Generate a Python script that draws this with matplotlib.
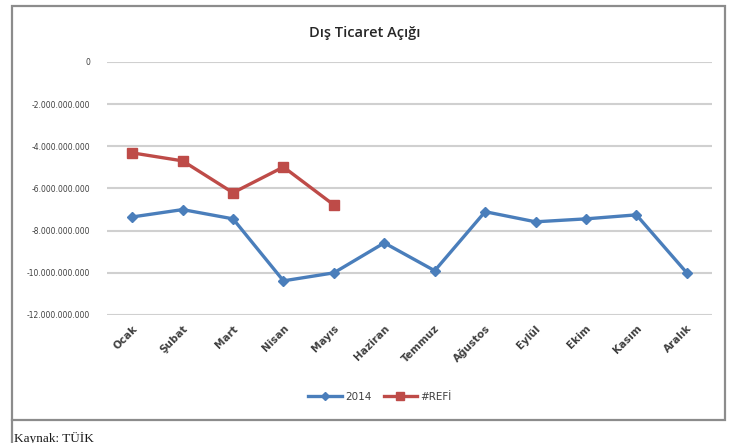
import matplotlib.pyplot as plt
from matplotlib.patches import Rectangle
from matplotlib.lines import Line2D
from matplotlib.ticker import FuncFormatter

months = ["Ocak", "Şubat", "Mart", "Nisan", "Mayıs", "Haziran", "Temmuz",
          "Ağustos", "Eylül", "Ekim", "Kasım", "Aralık"]
deficit_2014 = [-7.35e9, -7.0e9, -7.44e9, -10.38e9, -10.0e9, -8.58e9, -9.9e9,
                -7.1e9, -7.58e9, -7.44e9, -7.25e9, -10.0e9]
deficit_ref = [-4.31e9, -4.69e9, -6.2e9, -4.98e9, -6.78e9]
yticks = [0, -2e9, -4e9, -6e9, -8e9, -10e9, -12e9]

W, H = 730, 443
fig = plt.figure(figsize=(W / 100, H / 100), dpi=100)
fig.patch.set_facecolor("white")

# chart frame and source line
fig.add_artist(Rectangle((12 / W, 1 - 420 / H), 713 / W, 414 / H, transform=fig.transFigure,
                         facecolor="none", edgecolor="#8c8c8c", linewidth=1.6))
fig.add_artist(Line2D([12 / W, 12 / W], [0, 1 - 420 / H], transform=fig.transFigure,
                      color="#8c8c8c", linewidth=1.6))

ax = fig.add_axes([107 / W, 1 - 315 / H, 605 / W, 253 / H])
x = list(range(len(months)))
ax.plot(x, deficit_2014, color="#4a7ebb", linewidth=2.4, marker="D", markersize=5, label="2014")
ax.plot(x[:len(deficit_ref)], deficit_ref, color="#be4b48", linewidth=2.4, marker="s",
        markersize=7, label="#REFİ")

ax.set_xlim(-0.5, len(months) - 0.5)
ax.set_ylim(-12e9, 0)
ax.set_yticks(yticks)
ax.yaxis.set_major_formatter(FuncFormatter(lambda v, p: f"{int(v):,}".replace(",", ".")))
ax.set_xticks(x)
ax.set_xticklabels(months, rotation=45, ha="right", rotation_mode="anchor",
                   fontsize=7.5, color="#404040", fontweight="semibold")
ax.tick_params(axis="y", labelsize=5.5, labelcolor="#404040", length=0, pad=12)
ax.tick_params(axis="x", length=0, pad=6)
ax.grid(axis="y", color="#d0d0d0", linewidth=1.5)
ax.set_axisbelow(True)
for s in ax.spines.values():
    s.set_visible(False)

fig.text(365 / W, 1 - 33 / H, "Dış Ticaret Açığı", ha="center", va="center",
         fontsize=10.5, fontweight="semibold", color="#262626", family="Open Sans")
fig.legend(loc="center", bbox_to_anchor=(380 / W, 1 - 397 / H), ncol=2, frameon=False,
           handlelength=3.2, columnspacing=1.2, handletextpad=0.3, markerscale=0.75,
           prop={"size": 7.5}, labelcolor="#404040")
fig.text(14 / W, 1 - 438 / H, "Kaynak: TÜİK", ha="left", va="center", fontsize=9.5,
         family="Liberation Serif", color="#1a1a1a")

fig.savefig("out.png", dpi=100)
